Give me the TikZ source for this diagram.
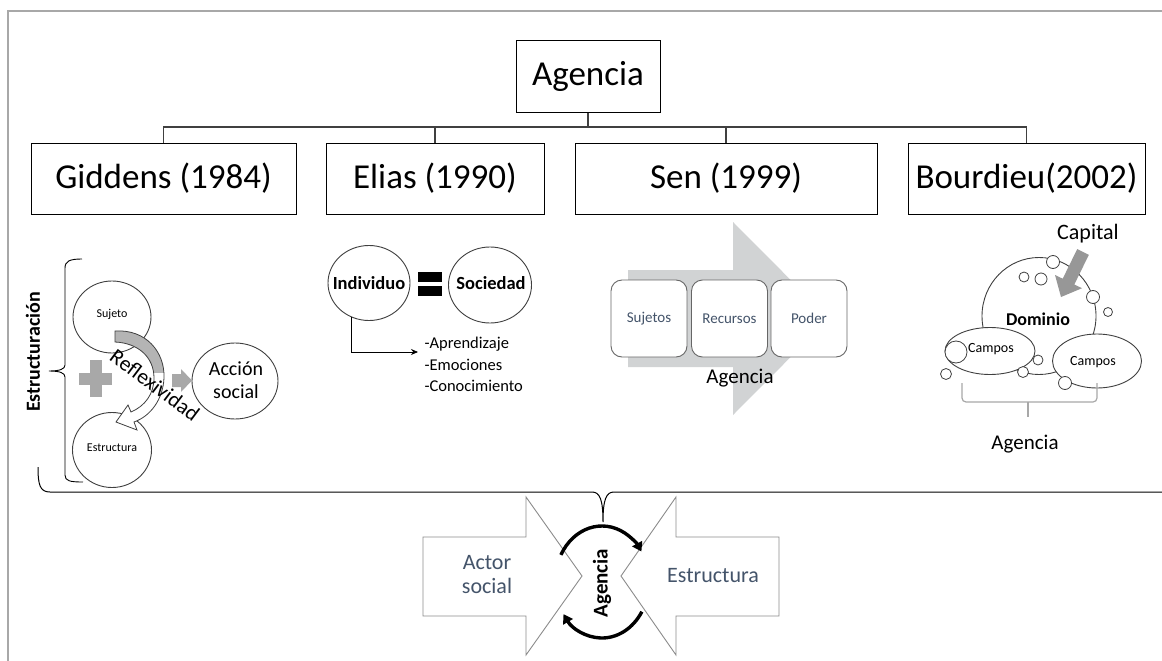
\documentclass[tikz,border=0pt]{standalone}
\usepackage{fontspec}
\setmainfont{Carlito}
\usetikzlibrary{arrows.meta,shapes.geometric}
\definecolor{txtblue}{HTML}{44546A}
\definecolor{lgray}{HTML}{D1D3D4}
\definecolor{mgray}{HTML}{A8A8A8}
\definecolor{bgray}{HTML}{B4B4B4}
\definecolor{dgray}{HTML}{404040}
\definecolor{arrowgray}{HTML}{8C8C8C}
\newcommand{\fs}[2]{\fontsize{#1}{#2}\selectfont}
\begin{document}
\begin{tikzpicture}[x=1pt,y=-1pt,
 hbox/.style={draw=black,line width=1pt,minimum height=71pt,inner sep=0pt,font=\fs{35}{42}},
 tree/.style={draw=dgray,line width=1.3pt},
 circ/.style={ellipse,draw=dgray,line width=0.9pt,fill=white,inner sep=0pt},
 sbox/.style={draw=gray!80!black,line width=0.9pt,rounded corners=11pt,fill=white,minimum width=76pt,minimum height=77pt,inner sep=0pt,font=\fs{15}{18},text=txtblue},
 dotc/.style={circle,draw=dgray,line width=0.8pt,fill=white,inner sep=0pt},
 barrow/.style={draw=arrowgray,line width=0.9pt,fill=white},
 cyc/.style={line width=3.4pt,-{Triangle[length=9pt,width=11pt]}},
]
\useasboundingbox (0,0) rectangle (1162,661);
\fill[white] (0,0) rectangle (1162,661);
% frame
\draw[mgray,line width=2pt] (8,661) -- (8,10.7) -- (1162,10.7);

% ---------- tree ----------
\node[hbox,minimum width=144pt] (top) at (588,76.5) {Agencia};
\node[hbox,minimum width=265pt] (gid) at (163.5,178.5) {Giddens (1984)};
\node[hbox,minimum width=218pt] (eli) at (435,178.5) {Elias (1990)};
\node[hbox,minimum width=302pt] (sen) at (726,178.5) {Sen (1999)};
\node[hbox,minimum width=237pt] (bou) at (1026.5,178.5) {Bourdieu(2002)};
\coordinate (bar) at (588,127);
\draw[tree] (top.south) -- (bar);
\draw[tree] (gid.north) |- (bar) -| (bou.north);
\draw[tree] (eli.north) -- (eli.north |- bar);
\draw[tree] (sen.north) -- (sen.north |- bar);

% ---------- Giddens ----------
\node[rotate=90,font=\bfseries\fs{20}{24}] (estr) at (33,352) {Estructuración};
\draw[line width=0.9pt] (82,259) .. controls (70,259) and (65,261) .. (65,268) -- (65,365)
  .. controls (65,369) and (60,371) .. (49,371) .. controls (60,371) and (65,373) .. (65,377)
  -- (65,475) .. controls (65,481) and (70,482) .. (83,482);
\node[circ,minimum width=78pt,minimum height=72pt] (suj) at (112,317) {};
\node[font=\fs{12}{14}] (sujt) at (112,314) {Sujeto};
\node[circ,minimum width=79pt,minimum height=75pt] (est) at (112,450) {};
\node[font=\fs{12}{14}] (estt) at (112,448) {Estructura};
\node[circ,minimum width=86pt,minimum height=76pt] (acc) at (235,381) {};
\node[font=\fs{20}{23},align=center] (acct) at (236,380) {Acción\\social};
% plus sign
\fill[mgray] (89.5,360) rectangle (101.5,397);
\fill[mgray] (79,372.5) rectangle (112,384.5);
% small arrow
\fill[mgray] (172,374) -- (181,374) -- (181,369) -- (192,380.5) -- (181,392) -- (181,387) -- (172,387) -- cycle;
% curved arrow
\path[save path=\reflp] (115,331) .. controls (146,329) and (165,352) .. (164,378)
  .. controls (163,399) and (151,416) .. (134,422) -- (137,430) -- (116,422) -- (128,405)
  -- (131,412) .. controls (145,406) and (154,394) .. (154,378)
  .. controls (154,357) and (138,343) .. (115,342) -- cycle;
\fill[white,use path=\reflp];
\begin{scope}
 \clip (100,320) rectangle (175,372);
 \fill[bgray,use path=\reflp];
\end{scope}
\draw[dgray,line width=0.8pt,use path=\reflp];
\node[rotate=-37,font=\fs{21.5}{25}] (refl) at (155,385) {Reflexividad};

% ---------- Elias ----------
\node[circ,minimum width=82pt,minimum height=75pt] (ind) at (369,283) {};
\node[font=\bfseries\fs{18.5}{22}] (indt) at (369,283) {Individuo};
\node[circ,minimum width=83pt,minimum height=76pt] (soc) at (490,285) {};
\node[font=\bfseries\fs{18.5}{22}] (soct) at (491,283) {Sociedad};
\fill[black] (418,272) rectangle (442,282);
\fill[black] (418,286) rectangle (442,296);
\node[anchor=base west,font=\fs{16.5}{20}] (l1) at (421,348) {-Aprendizaje};
\node[anchor=base west,font=\fs{16.5}{20}] (l2) at (421,370) {-Emociones};
\node[anchor=base west,font=\fs{16.5}{20}] (l3) at (421,391) {-Conocimiento};
\coordinate (le) at (418,352);
\draw[line width=0.8pt,-{Stealth[length=7pt,width=6pt]}] (ind.-117) |- (le);

% ---------- Sen ----------
\fill[lgray] (628,270) -- (733,270) -- (733,222) -- (829,318.5) -- (733,415) -- (733,367) -- (628,367) -- cycle;
\node[sbox] (suj2) at (649,318.5) {Sujetos};
\node[sbox] (rec) at (729.5,318.5) {Recursos};
\node[sbox] (pod) at (809,318.5) {Poder};
\node[font=\fs{21}{25}] (sag) at (740,378) {Agencia};

% ---------- Bourdieu ----------
\node[font=\fs{22}{26}] (cap) at (1088,234) {Capital};
\node[circ,minimum width=114pt,minimum height=117pt] (dom) at (1039,316) {};
\node[circ,minimum width=90pt,minimum height=47pt] (cam1) at (990,351) {};
\node[circ,minimum width=89pt,minimum height=54pt] (cam2) at (1097,361) {};
\node[font=\bfseries\fs{18}{22}] (domt) at (1038,319) {Dominio};
\node[font=\fs{14}{17}] (c1t) at (991,349) {Campos};
\node[font=\fs{14}{17}] (c2t) at (1093,362) {Campos};
\node[dotc,minimum size=22pt] (d1) at (956,352) {};
\node[dotc,minimum size=11pt] (d2) at (946,374) {};
\node[dotc,minimum size=11pt] (d3) at (1023,372) {};
\node[dotc,minimum size=10pt] (d4) at (1038,360) {};
\node[dotc,minimum size=13pt] (d5) at (1065,383) {};
\node[dotc,minimum size=13pt] (d6) at (1053,262) {};
\node[dotc,minimum size=10pt] (d7) at (1024,277) {};
\node[dotc,minimum size=12pt] (d8) at (1041,279) {};
\node[dotc,minimum size=13pt] (d9) at (1093,297) {};
\node[dotc,minimum size=9pt] (d10) at (1108,312) {};
\fill[mgray!90!black] (1088.8,254.9) -- (1074.3,284.5) -- (1082,288.2) -- (1061,297) -- (1055,275) -- (1062.7,278.7) -- (1077.2,249.1) -- cycle;
\draw[mgray,line width=1.2pt,rounded corners=4pt] (962,383) -- (962,402) -- (1097,402) -- (1097,383);
\draw[mgray,line width=1.2pt] (1028,402) -- (1028,417);
\node[font=\fs{21}{25}] (bag) at (1025,444) {Agencia};

% ---------- bottom ----------
\draw[line width=1pt] (38,467) .. controls (38,485) and (40,492) .. (50,492) -- (592,492)
  .. controls (600,492) and (603,500) .. (603,522) .. controls (603,500) and (606,492) .. (614,492) -- (1170,492);
\draw[barrow] (423,537) -- (526,537) -- (526,497) -- (582,576) -- (526,655) -- (526,616) -- (423,616) -- cycle;
\draw[barrow] (779,537) -- (676,537) -- (676,497) -- (621,576) -- (676,655) -- (676,616) -- (779,616) -- cycle;
\node[font=\fs{22}{24},text=txtblue,align=center] (act) at (487,575) {Actor\\social};
\node[font=\fs{22}{26},text=txtblue] (bes) at (713,576) {Estructura};
\coordinate (ac) at (602,582);
\draw[cyc] ([shift={(151:47pt and 56pt)}]ac) arc[start angle=151,end angle=33,x radius=47pt,y radius=56pt];
\draw[cyc] ([shift={(-32:47pt and 56pt)}]ac) arc[start angle=-32,end angle=-145,x radius=47pt,y radius=56pt];
\node[rotate=90,font=\bfseries\fs{21}{25}] (bag2) at (602,583) {Agencia};
\end{tikzpicture}
\end{document}
